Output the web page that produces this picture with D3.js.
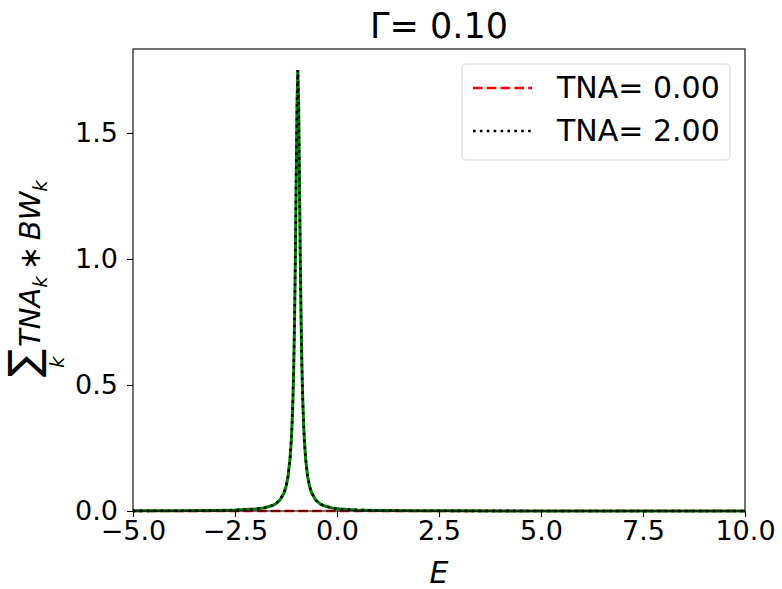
<!DOCTYPE html>
<html>
<head>
<meta charset="utf-8">
<script src="https://cdn.jsdelivr.net/npm/d3@7"></script>
<style>
  body { margin: 0; background: #fff; }
  text { font-family: 'DejaVu Sans', sans-serif; fill: #000; }
</style>
</head>
<body>
<div id="chart"></div>
<script>
// Energy grid and curves
const energies = [-5, -4, -3, -2.5, -2, -1.8, -1.6, -1.5, -1.4, -1.3, -1.25, -1.2, -1.15, -1.12,
  -1.1, -1.08, -1.06, -1.04, -1.02, -1.0, -0.98, -0.96, -0.94, -0.92, -0.9, -0.88, -0.86,
  -0.84, -0.82, -0.8, -0.77, -0.72, -0.67, -0.62, -0.52, -0.42, -0.32, -0.12, 0.08, 0.5,
  1, 2, 3, 4, 5, 6, 7, 8, 9, 10];
const tna2Values = [0.0005, 0.0009, 0.0021, 0.0036, 0.0079, 0.0121, 0.0207, 0.0289, 0.0432,
  0.0712, 0.0963, 0.1372, 0.2091, 0.2811, 0.35, 0.4443, 0.5755, 0.7588, 1.0088, 1.3192,
  1.6179, 1.75, 1.6179, 1.3192, 1.0088, 0.7588, 0.5755, 0.4443, 0.35, 0.2811, 0.2091,
  0.1372, 0.0963, 0.0712, 0.0432, 0.0289, 0.0207, 0.0121, 0.0079, 0.004, 0.0022, 0.001,
  0.0006, 0.0004, 0.0002, 0.0002, 0.0001, 0.0001, 0.0001, 0.0001];
const tna0Values = energies.map(() => 0);
const legendLabels = ['TNA= 0.00', 'TNA= 2.00'];
const xTicks = [-5, -2.5, 0, 2.5, 5, 7.5, 10];
const yTicks = [0, 0.5, 1.0, 1.5];
const titleText = 'Γ= 0.10';

const width = 782;
const height = 589;
const margin = { left: 133, right: 37, top: 49, bottom: 78 };
const fontSize = 27;
const lw = 2.6;

const svg = d3.select('#chart')
  .append('svg')
  .attr('width', width)
  .attr('height', height);

const x = d3.scaleLinear().domain([-5, 10]).range([margin.left, width - margin.right]);
const y = d3.scaleLinear().domain([0, 1.833]).range([height - margin.bottom, margin.top]);

svg.append('clipPath').attr('id', 'clip')
  .append('rect')
  .attr('x', margin.left).attr('y', margin.top - 2)
  .attr('width', width - margin.left - margin.right)
  .attr('height', height - margin.top - margin.bottom + 4);

const line = d3.line().x((d) => x(d[0])).y((d) => y(d[1]));
const plot = svg.append('g').attr('clip-path', 'url(#clip)');

// TNA = 0 dashed red
plot.append('path')
  .datum(d3.zip(energies, tna0Values))
  .attr('d', line)
  .attr('fill', 'none')
  .attr('stroke', '#ff0000')
  .attr('stroke-width', lw)
  .attr('stroke-dasharray', `${3.7 * lw},${1.6 * lw}`);

// green reference curve underneath
plot.append('path')
  .datum(d3.zip(energies, tna2Values))
  .attr('d', line)
  .attr('fill', 'none')
  .attr('stroke', '#008000')
  .attr('stroke-width', lw + 0.4);

// TNA = 2 dotted black
plot.append('path')
  .datum(d3.zip(energies, tna2Values))
  .attr('d', line)
  .attr('fill', 'none')
  .attr('stroke', '#000')
  .attr('stroke-width', lw)
  .attr('stroke-dasharray', `${lw},${1.65 * lw}`);

// Axes
const fmt = (v) => v.toFixed(1).replace('-', '\u2212');
const xAxis = svg.append('g')
  .attr('transform', `translate(0,${height - margin.bottom})`)
  .call(d3.axisBottom(x).tickValues(xTicks).tickFormat(fmt).tickSize(6).tickPadding(4));
const yAxis = svg.append('g')
  .attr('transform', `translate(${margin.left},0)`)
  .call(d3.axisLeft(y).tickValues(yTicks).tickFormat(fmt).tickSize(6).tickPadding(9));

[xAxis, yAxis].forEach((g) => {
  g.select('.domain').remove();
  g.selectAll('line').attr('stroke', '#000').attr('stroke-width', 1.1);
  g.selectAll('text').style('font-size', `${fontSize}px`).style('font-family', "'DejaVu Sans'");
});

// Frame
svg.append('rect')
  .attr('x', margin.left).attr('y', margin.top)
  .attr('width', width - margin.left - margin.right)
  .attr('height', height - margin.top - margin.bottom)
  .attr('fill', 'none')
  .attr('stroke', '#000')
  .attr('stroke-width', 1.1);

// Title
svg.append('text')
  .attr('x', (margin.left + width - margin.right) / 2)
  .attr('y', 38)
  .attr('text-anchor', 'middle')
  .style('font-size', '35px')
  .text(titleText);

// x label
svg.append('text')
  .attr('x', (margin.left + width - margin.right) / 2)
  .attr('y', 583)
  .attr('text-anchor', 'middle')
  .style('font-size', '30px')
  .style('font-style', 'italic')
  .text('E');

// y label: sum_k TNA_k * BW_k, rotated
const yl = svg.append('g').attr('transform', 'translate(0,280) rotate(-90)');
yl.append('text').attr('x', -97).attr('y', 38).style('font-size', '42px').text('\u2211');
yl.append('text').attr('x', -88).attr('y', 64).style('font-size', '20px').style('font-style', 'italic').text('k');
const ylt = yl.append('text').attr('x', -67).attr('y', 40).style('font-size', '29px').style('font-style', 'italic');
ylt.append('tspan').text('TNA');
ylt.append('tspan').attr('dy', 7).style('font-size', '20px').text('k');
ylt.append('tspan').attr('dy', -7).style('font-style', 'normal').text('\u2009\u2217\u2009');
ylt.append('tspan').text('BW');
ylt.append('tspan').attr('dy', 7).style('font-size', '20px').text('k');

// Legend
const legend = svg.append('g');
legend.append('rect')
  .attr('x', 462).attr('y', 64)
  .attr('width', 268).attr('height', 96)
  .attr('rx', 4)
  .attr('fill', '#fff')
  .attr('stroke', '#d6d6d6')
  .attr('stroke-width', 1.1);
const legendStyles = [
  { color: '#ff0000', dash: `${3.7 * lw},${1.6 * lw}` },
  { color: '#000', dash: `${lw},${1.65 * lw}` },
];
legendLabels.forEach((label, i) => {
  const cy = 88 + i * 43;
  legend.append('line')
    .attr('x1', 473).attr('x2', 532)
    .attr('y1', cy).attr('y2', cy)
    .attr('stroke', legendStyles[i].color)
    .attr('stroke-width', lw)
    .attr('stroke-dasharray', legendStyles[i].dash);
  legend.append('text')
    .attr('x', 557).attr('y', cy + 10)
    .style('font-size', '30px')
    .text(label);
});
</script>
</body>
</html>
